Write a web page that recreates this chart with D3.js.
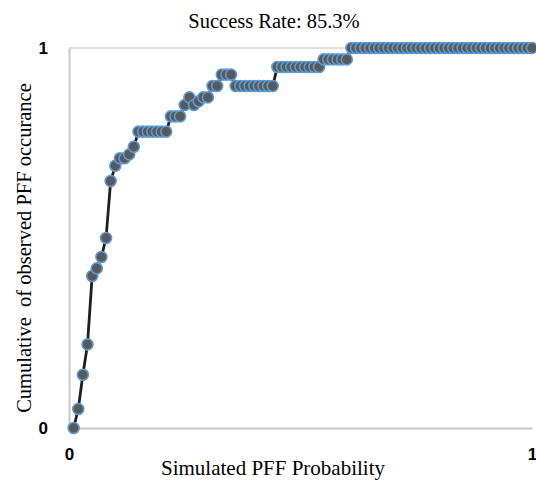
<!DOCTYPE html>
<html>
<head>
<meta charset="utf-8">
<script src="https://cdn.jsdelivr.net/npm/d3@7"></script>
<style>
  body { margin: 0; background: #fff; }
  svg { display: block; }
</style>
</head>
<body>
<svg id="chart" width="536" height="480"></svg>
<script>
  // simulated probability (x) for each observed PFF case
  var probability = [
    0.01, 0.02, 0.03, 0.04, 0.05, 0.06, 0.07, 0.08, 0.09, 0.10,
    0.11, 0.12, 0.13, 0.14, 0.15, 0.16, 0.17, 0.18, 0.19, 0.20,
    0.21, 0.22, 0.23, 0.24, 0.25, 0.26, 0.27, 0.28, 0.29, 0.30,
    0.31, 0.32, 0.33, 0.34, 0.35, 0.36, 0.37, 0.38, 0.39, 0.40,
    0.41, 0.42, 0.43, 0.44, 0.45, 0.46, 0.47, 0.48, 0.49, 0.50,
    0.51, 0.52, 0.53, 0.54, 0.55, 0.56, 0.57, 0.58, 0.59, 0.60,
    0.61, 0.62, 0.63, 0.64, 0.65, 0.66, 0.67, 0.68, 0.69, 0.70,
    0.71, 0.72, 0.73, 0.74, 0.75, 0.76, 0.77, 0.78, 0.79, 0.80,
    0.81, 0.82, 0.83, 0.84, 0.85, 0.86, 0.87, 0.88, 0.89, 0.90,
    0.91, 0.92, 0.93, 0.94, 0.95, 0.96, 0.97, 0.98, 0.99, 1.00
  ]

  // cumulative observed occurance (y)
  var cumulative = [
    0.00, 0.05, 0.14, 0.22, 0.40, 0.42, 0.45, 0.50, 0.65, 0.69,
    0.71, 0.71, 0.72, 0.74, 0.78, 0.78, 0.78, 0.78, 0.78, 0.78,
    0.78, 0.82, 0.82, 0.82, 0.85, 0.87, 0.85, 0.86, 0.87, 0.87,
    0.90, 0.90, 0.93, 0.93, 0.93, 0.90, 0.90, 0.90, 0.90, 0.90,
    0.90, 0.90, 0.90, 0.90, 0.95, 0.95, 0.95, 0.95, 0.95, 0.95,
    0.95, 0.95, 0.95, 0.95, 0.97, 0.97, 0.97, 0.97, 0.97, 0.97,
    1.00, 1.00, 1.00, 1.00, 1.00, 1.00, 1.00, 1.00, 1.00, 1.00,
    1.00, 1.00, 1.00, 1.00, 1.00, 1.00, 1.00, 1.00, 1.00, 1.00,
    1.00, 1.00, 1.00, 1.00, 1.00, 1.00, 1.00, 1.00, 1.00, 1.00,
    1.00, 1.00, 1.00, 1.00, 1.00, 1.00, 1.00, 1.00, 1.00, 1.00
  ]

  var xTicks = [0, 1]
  var yTicks = [0, 1]

  var points = probability.map(function (p, i) {
    return { x: p, y: cumulative[i] }
  })

  var svg = d3.select('#chart')

  // plot area edges (don't call these top/left at global scope, window.top is taken)
  var plotLeft = 69, plotRight = 532, plotTop = 48, plotBottom = 428

  var x = d3.scaleLinear().domain([0, 1]).range([plotLeft, plotRight])
  var y = d3.scaleLinear().domain([0, 1]).range([plotBottom, plotTop])

  // top gridline at 1
  svg.append('line')
    .attr('x1', plotLeft).attr('x2', plotRight)
    .attr('y1', y(1)).attr('y2', y(1))
    .attr('stroke', '#d4d4d4').attr('stroke-width', 1.5)

  // y axis
  var yAxis = svg.append('g')
    .attr('transform', 'translate(' + plotLeft + ',0)')
    .call(d3.axisLeft(y).tickValues(yTicks).tickSize(0).tickPadding(21).tickFormat(d3.format('d')))
  yAxis.select('.domain').attr('stroke', '#c8c8c8').attr('stroke-width', 2)
  yAxis.selectAll('text')
    .attr('font-family', 'Liberation Sans, Arial, sans-serif')
    .attr('font-weight', 'bold').attr('font-size', 17).attr('fill', '#000')

  // x axis
  var xAxis = svg.append('g')
    .attr('transform', 'translate(0,' + plotBottom + ')')
    .call(d3.axisBottom(x).tickValues(xTicks).tickSize(0).tickPadding(20).tickFormat(d3.format('d')))
  xAxis.select('.domain').attr('stroke', '#c8c8c8').attr('stroke-width', 2)
  xAxis.selectAll('text')
    .attr('font-family', 'Liberation Sans, Arial, sans-serif')
    .attr('font-weight', 'bold').attr('font-size', 17).attr('fill', '#000')

  var line = d3.line()
    .x(function (d) { return x(d.x) })
    .y(function (d) { return y(d.y) })

  svg.append('path')
    .datum(points)
    .attr('d', line)
    .attr('fill', 'none')
    .attr('stroke', '#1f1f1f')
    .attr('stroke-width', 2.8)

  svg.append('g')
    .selectAll('circle')
    .data(points)
    .enter().append('circle')
    .attr('cx', function (d) { return x(d.x) })
    .attr('cy', function (d) { return y(d.y) })
    .attr('r', 5.5)
    .attr('fill', '#595959')
    .attr('stroke', '#5b9bd5')
    .attr('stroke-width', 1.6)

  // title
  svg.append('text')
    .attr('x', 274).attr('y', 28)
    .attr('text-anchor', 'middle')
    .attr('font-family', 'Liberation Serif, Times New Roman, serif')
    .attr('font-size', 20.5)
    .text('Success Rate: 85.3%')

  // x label
  svg.append('text')
    .attr('x', 273).attr('y', 475)
    .attr('text-anchor', 'middle')
    .attr('font-family', 'Liberation Serif, Times New Roman, serif')
    .attr('font-size', 21)
    .text('Simulated PFF Probability')

  // y label
  svg.append('text')
    .attr('transform', 'translate(31,248) rotate(-90)')
    .attr('text-anchor', 'middle')
    .attr('font-family', 'Liberation Serif, Times New Roman, serif')
    .attr('font-size', 20.5)
    .style('white-space', 'pre')
    .text('Cumulative  of observed PFF occurance')
</script>
</body>
</html>
